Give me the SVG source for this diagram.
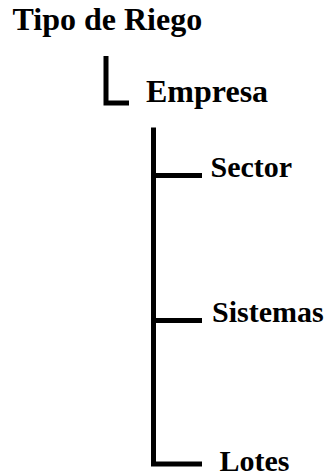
<svg xmlns="http://www.w3.org/2000/svg" width="332" height="474" viewBox="0 0 332 474">
<style>
text{font-family:'Liberation Serif','Times New Roman',Times,serif;font-weight:700;fill:#000}
.l{fill:none;stroke:#000;stroke-width:5;stroke-linejoin:miter;stroke-linecap:butt}
</style>
<rect width="332" height="474" fill="#fff"/>
<g id="connectors">
<path class="l" d="M106,56 V103 H129"/>
<path class="l" d="M153.5,127.5 V464 H202 M153.5,175.5 H202 M153.5,320.5 H202"/>
</g>
<g id="tipo"><text x="12.5" y="30" font-size="32" font-family="Liberation Serif, serif">Tipo de Riego</text></g>
<g id="empresa"><text x="146" y="102" font-size="32" font-family="Liberation Serif, serif">Empresa</text></g>
<g id="sector"><text x="210.5" y="177" font-size="30" font-family="Liberation Serif, serif">Sector</text></g>
<g id="sistemas"><text x="212" y="322" font-size="30" font-family="Liberation Serif, serif">Sistemas</text></g>
<g id="lotes"><text x="219.5" y="470.5" font-size="30" font-family="Liberation Serif, serif">Lotes</text></g>
</svg>
